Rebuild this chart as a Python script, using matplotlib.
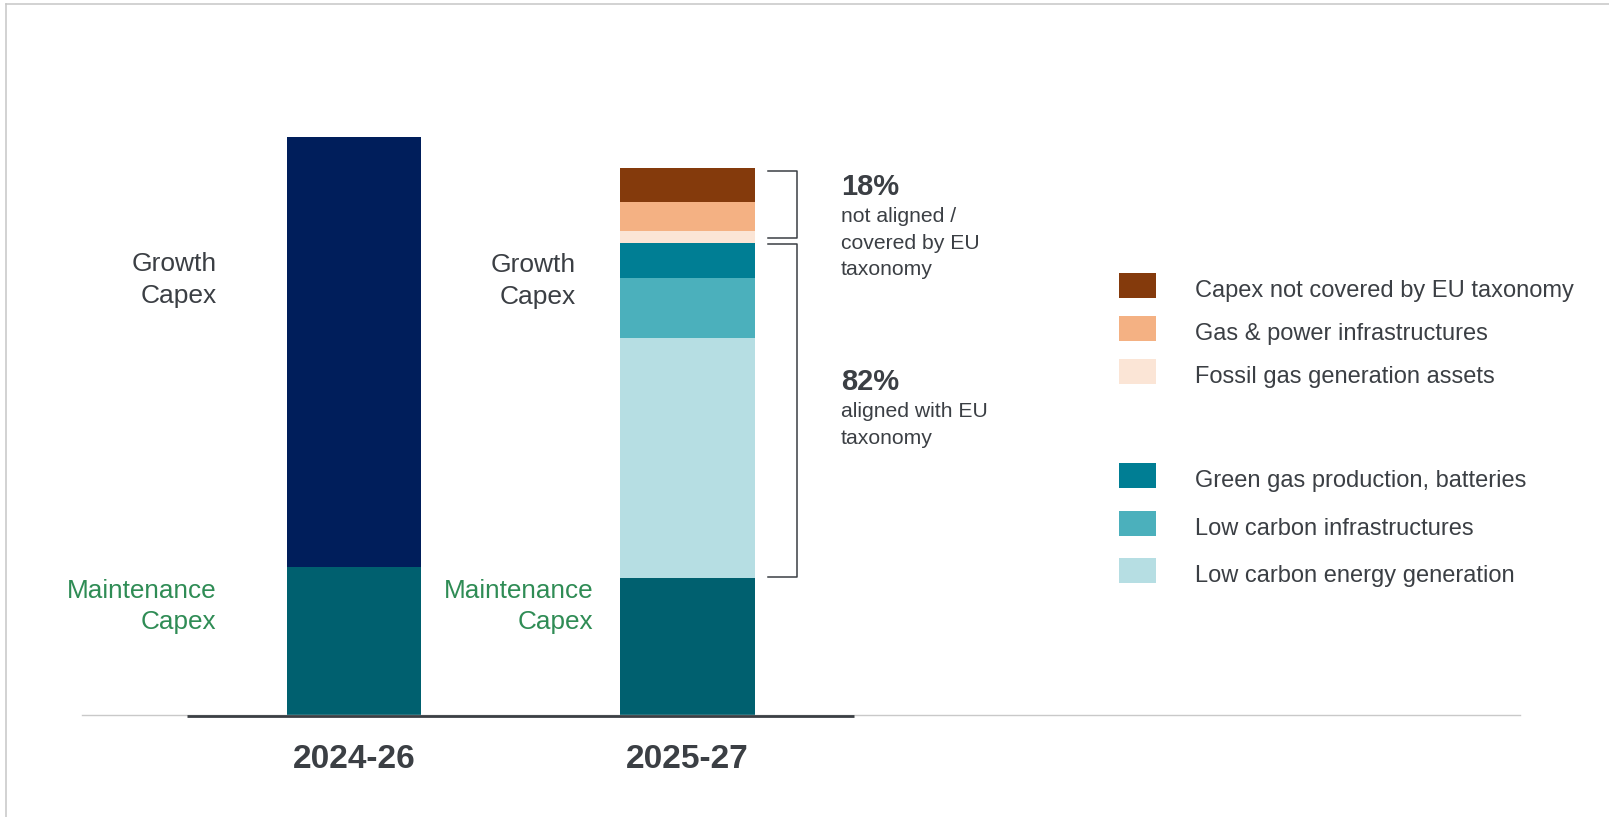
import matplotlib.pyplot as plt
from matplotlib.lines import Line2D
from matplotlib.patches import Rectangle

periods = ['2024-26', '2025-27']
maintenance = [8.1, 7.5]
growth_2024 = 23.5

# 2025-27 growth capex split, listed bottom to top
aligned_labels = ['Low carbon energy generation', 'Low carbon infrastructures',
                  'Green gas production, batteries']
aligned_values = [13.1, 3.3, 1.9]
not_aligned_labels = ['Fossil gas generation assets', 'Gas & power infrastructures',
                      'Capex not covered by EU taxonomy']
not_aligned_values = [0.65, 1.6, 1.85]

aligned_colors = ['#B6DEE3', '#4BB0BC', '#007E94']
not_aligned_colors = ['#FBE5D6', '#F4B183', '#843A0C']
navy = '#001E5B'
maint_color = '#00606F'
green = '#2F8C55'
dark = '#3B3F44'

plt.rcParams['font.family'] = ['Liberation Sans', 'DejaVu Sans']

W, H = 1609, 817
fig = plt.figure(figsize=(W / 100, H / 100), dpi=100)


def fx(px):
    return px / W


def fy(py):
    return 1 - py / H


ax = fig.add_axes([fx(82), fy(715), fx(1520 - 82), 640.5 / H])
ax.set_xlim(-0.8156, 3.496)
ax.set_ylim(0, 35)
for s in ['top', 'right', 'left']:
    ax.spines[s].set_visible(False)
ax.spines['bottom'].set_color('#C9C9C9')
ax.spines['bottom'].set_linewidth(1.0)
ax.set_xticks([])
ax.set_yticks([])
ax.patch.set_alpha(0)

bw = 0.402
x = [0, 1]

# maintenance capex at the bottom of both bars
ax.bar(x, maintenance, width=bw, color=maint_color, linewidth=0)
ax.bar(x[0], growth_2024, bottom=maintenance[0], width=bw, color=navy, linewidth=0)

bottom = maintenance[1]
for v, c in zip(aligned_values + not_aligned_values, aligned_colors + not_aligned_colors):
    ax.bar(x[1], v, bottom=bottom, width=bw, color=c, linewidth=0)
    bottom += v

ax.plot([-0.5, 1.5], [-0.03, -0.03], color=dark, lw=2.0, clip_on=False,
        solid_capstyle='butt', zorder=4)

for i, p in enumerate(periods):
    ax.annotate(p, xy=(i, 0), xytext=(0, -32), textcoords='offset points',
                ha='center', va='center', fontsize=24, fontweight='bold',
                color=dark)

# side labels
ax.text(-0.4126, 23.78, 'Growth\nCapex', ha='right', va='center', fontsize=19,
        color=dark, linespacing=1.45)
ax.text(0.6645, 23.72, 'Growth\nCapex', ha='right', va='center', fontsize=19,
        color=dark, linespacing=1.45)
ax.text(-0.4126, 5.92, 'Maintenance\nCapex', ha='right', va='center', fontsize=18.8,
        color=green, linespacing=1.38)
ax.text(0.7167, 5.92, 'Maintenance\nCapex', ha='right', va='center', fontsize=18.8,
        color=green, linespacing=1.38)

# brackets for the taxonomy split
aligned_sum = sum(aligned_values)
growth_2027 = aligned_sum + sum(not_aligned_values)
split = maintenance[1] + aligned_sum
top = maintenance[1] + growth_2027
bx0 = 1 + bw / 2 + 0.04
bx1 = 1 + bw / 2 + 0.127
ax.plot([bx0, bx1, bx1, bx0], [top - 0.2, top - 0.2, split + 0.25, split + 0.25],
        color=dark, lw=1.1)
ax.plot([bx0, bx1, bx1, bx0], [split - 0.05, split - 0.05, maintenance[1] + 0.05,
                                maintenance[1] + 0.05], color=dark, lw=1.1)

pct_aligned = round(100 * aligned_sum / growth_2027)
pct_not = 100 - pct_aligned
tx = 1.46
ax.text(tx, 28.85, f'{pct_not}%', ha='left', va='center', fontsize=21,
        fontweight='bold', color=dark)
ax.text(tx, 27.75, 'not aligned /\ncovered by EU\ntaxonomy', ha='left', va='top',
        fontsize=15.2, color=dark, linespacing=1.5)
ax.text(tx, 18.2, f'{pct_aligned}%', ha='left', va='center', fontsize=21,
        fontweight='bold', color=dark)
ax.text(tx, 17.1, 'aligned with EU\ntaxonomy', ha='left', va='top',
        fontsize=15.2, color=dark, linespacing=1.5)

# legend, drawn by hand to keep the two groups apart
legend_labels = not_aligned_labels[::-1] + aligned_labels[::-1]
legend_colors = not_aligned_colors[::-1] + aligned_colors[::-1]
row_tops = [273, 316, 359, 463, 511, 558]
for lab, c, t in zip(legend_labels, legend_colors, row_tops):
    fig.add_artist(Rectangle((fx(1119), fy(t + 24.7)), fx(37), 24.7 / H,
                             transform=fig.transFigure, color=c, lw=0))
    fig.text(fx(1195), fy(t + 24.2), lab, ha='left', va='baseline',
             fontsize=17, color=dark)

# thin frame on the left and top edges
fig.add_artist(Line2D([fx(6), fx(6)], [0, fy(4)], transform=fig.transFigure,
                      color='#C6C6C6', lw=1.1))
fig.add_artist(Line2D([fx(6), 1], [fy(4), fy(4)], transform=fig.transFigure,
                      color='#C6C6C6', lw=1.1))

fig.savefig('out.png', dpi=100, facecolor='white')
